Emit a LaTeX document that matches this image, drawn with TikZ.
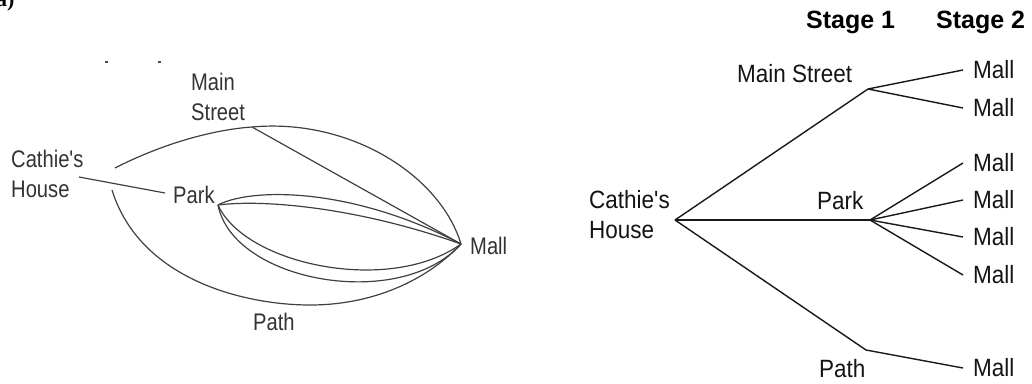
\documentclass[tikz,border=0pt]{standalone}
\usepackage{fontspec}
\setmainfont{Liberation Sans}
\newfontfamily\leftlbl[FakeStretch=0.84]{Liberation Sans}
\newfontfamily\rightlbl[FakeStretch=0.9]{Liberation Sans}
\newfontfamily\serifbold{Liberation Serif}
\begin{document}
\begin{tikzpicture}[x=1pt,y=-1pt,
  mapname/.style={inner sep=0pt, align=left, text=black!80,
    font=\leftlbl\fontsize{24}{29.5}\selectfont},
  road/.style={draw=black!75, line width=1.2pt},
  treename/.style={inner sep=0pt, align=left, text=black!92,
    font=\rightlbl\fontsize{25}{30}\selectfont},
  leaf/.style={treename, anchor=west, inner xsep=10pt, inner ysep=0pt},
  stagehead/.style={inner sep=0pt, anchor=base west,
    font=\bfseries\fontsize{25}{30}\selectfont},
  branch/.style={draw=black!90, line width=1.4pt}]
\useasboundingbox (0,0) rectangle (1032,383);
\clip (0,0) rectangle (1032,383);

% part label
\node[inner sep=0pt, anchor=base west, font=\serifbold\bfseries\fontsize{22}{26}\selectfont]
  (partlabel) at (-4,6.5) {a)};

% small stray marks
\draw[line width=1.6pt, black!70] (105,62) coordinate (tickA1) -- (108,62) coordinate (tickA2);
\draw[line width=1.6pt, black!70] (158,62) coordinate (tickB1) -- (161,62) coordinate (tickB2);

% ---------- network of routes ----------
\node[mapname, anchor=north west] (houseL) at (11,150) {Cathie's\\House};
\node[mapname, anchor=north west] (mainL) at (191,73) {Main\\Street};
\node[mapname, anchor=base west] (parkL) at (173,203) {Park};
\node[mapname, anchor=base west] (pathL) at (253,330) {Path};
\node[mapname, anchor=west, inner xsep=9pt, inner ysep=0pt] (mallL) at (461,246) {Mall};

\coordinate (hTop) at (115,168);
\coordinate (hMid) at (79,177);
\coordinate (hBot) at (112,190);
\coordinate (msJ) at (252,127);
\coordinate (pkIn) at (165,193);
\coordinate (pkJ) at (218,205);
\coordinate (mlJ) at (461,244);

% house to Main Street and on to the mall
\draw[road] (hTop) .. controls (160,145) and (210,130) .. (msJ)
  .. controls (350,118) and (440,175) .. (mlJ);
\draw[road] (msJ) -- (mlJ);
% house to park
\draw[road] (hMid) -- (pkIn);
% the path
\draw[road] (hBot) .. controls (140,280) and (245,305) .. (310,305)
  .. controls (380,305) and (432,275) .. (mlJ);
% park to mall, four ways
\draw[road] (pkJ) .. controls (250,188) and (350,186) .. (mlJ);
\draw[road] (pkJ) .. controls (265,199) and (360,208) .. (mlJ);
\draw[road] (pkJ) .. controls (245,265) and (390,295) .. (mlJ);
\draw[road] (pkJ) .. controls (233,282) and (400,312) .. (mlJ);

% ---------- tree diagram ----------
\node[stagehead] (st1) at (806,28) {Stage 1};
\node[stagehead] (st2) at (936,28) {Stage 2};

\node[treename, anchor=north west] (houseR) at (589,190) {Cathie's\\House};
\node[treename, anchor=base west] (mainR) at (737,82) {Main Street};
\node[treename, anchor=base west] (parkR) at (817,209) {Park};
\node[treename, anchor=base west] (pathR) at (819,377) {Path};

\coordinate (rootR) at (675,220);
\coordinate (msR) at (868,89);
\coordinate (pkR) at (870,220);
\coordinate (paR) at (866,350);

\node[leaf] (m1) at (963,70) {Mall};
\node[leaf] (m2) at (963,108) {Mall};
\node[leaf] (m3) at (963,163) {Mall};
\node[leaf] (m4) at (963,200) {Mall};
\node[leaf] (m5) at (963,237) {Mall};
\node[leaf] (m6) at (963,275) {Mall};
\node[leaf] (m7) at (963,368) {Mall};

\draw[branch] (rootR) -- (msR);
\draw[branch] (rootR) -- (pkR);
\draw[branch] (rootR) -- (paR);
\draw[branch] (msR) -- (m1.west);
\draw[branch] (msR) -- (m2.west);
\draw[branch] (pkR) -- (m3.west);
\draw[branch] (pkR) -- (m4.west);
\draw[branch] (pkR) -- (m5.west);
\draw[branch] (pkR) -- (m6.west);
\draw[branch] (paR) -- (m7.west);
\end{tikzpicture}
\end{document}
